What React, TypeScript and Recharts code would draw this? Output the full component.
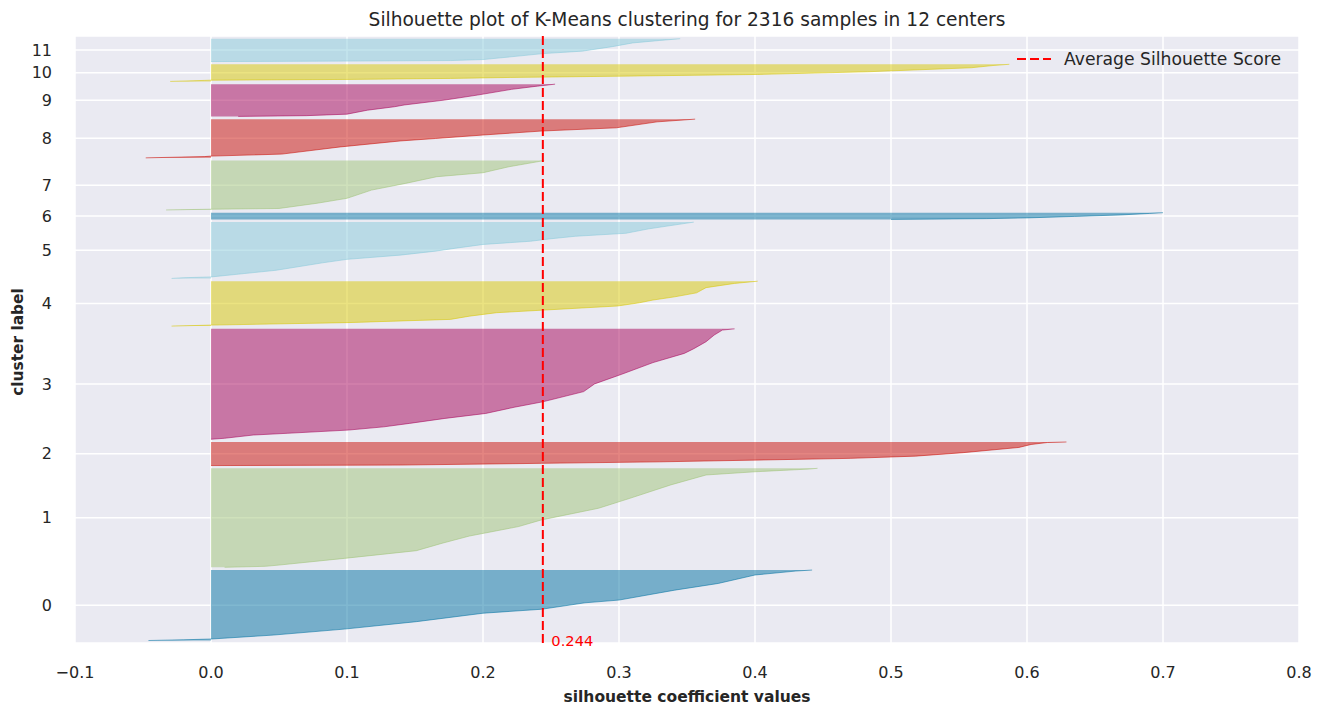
import React from 'react';
import { ComposedChart, Area, XAxis, YAxis, CartesianGrid, ReferenceLine } from 'recharts';

const FONT = '"DejaVu Sans", Verdana, sans-serif';
const TEXT = '#262626';

// samples per cluster, bottom to top
const clusterSizes = [285, 400, 96, 446, 182, 228, 28, 200, 157, 131, 70, 93];
const clusterColors = [
    '#0272a2', '#9fc377', '#ca0b03', '#a50258', '#d7c703', '#88cada',
    '#0272a2', '#9fc377', '#ca0b03', '#a50258', '#d7c703', '#88cada',
];
const xTicks = [-0.1, 0, 0.1, 0.2, 0.3, 0.4, 0.5, 0.6, 0.7, 0.8];
const avgScore = 0.244;
const totalSamples = 2316;

// sorted silhouette values: [rank inside cluster, value]
const sil0 = [[0, -0.046], [3, -0.02], [6, 0.0], [22, 0.046], [46, 0.098], [76, 0.151], [110, 0.2], [126, 0.243], [152, 0.275], [163, 0.3], [203, 0.341], [230, 0.373], [264, 0.4], [280, 0.43], [284, 0.442]];
const sil1 = [[0, 0.01], [4, 0.04], [9, 0.05], [36, 0.098], [67, 0.151], [97, 0.17], [126, 0.19], [164, 0.226], [191, 0.243], [238, 0.285], [278, 0.308], [332, 0.338], [372, 0.364], [385, 0.4], [396, 0.44], [399, 0.446]];
const sil2 = [[0, 0.0], [2, 0.139], [9, 0.243], [15, 0.33], [29, 0.47], [38, 0.518], [52, 0.553], [73, 0.594], [85, 0.603], [93, 0.615], [95, 0.629]];
const sil3 = [[0, 0.0], [4, 0.01], [17, 0.031], [24, 0.056], [37, 0.101], [50, 0.127], [64, 0.146], [84, 0.172], [104, 0.202], [129, 0.223], [151, 0.244], [192, 0.274], [223, 0.282], [262, 0.302], [309, 0.325], [346, 0.348], [365, 0.355], [393, 0.364], [420, 0.37], [440, 0.376], [445, 0.385]];
const sil4 = [[0, -0.029], [4, 0.0], [14, 0.1], [27, 0.176], [40, 0.19], [54, 0.21], [64, 0.243], [81, 0.299], [94, 0.315], [105, 0.325], [118, 0.341], [134, 0.357], [155, 0.364], [172, 0.385], [181, 0.402]];
const sil5 = [[0, -0.029], [3, -0.02], [6, 0.0], [33, 0.048], [63, 0.082], [77, 0.1], [94, 0.139], [110, 0.165], [122, 0.18], [137, 0.2], [150, 0.235], [160, 0.25], [170, 0.268], [182, 0.305], [200, 0.322], [227, 0.355]];
const sil6 = [[0, 0.5], [3, 0.57], [6, 0.6], [12, 0.635], [18, 0.669], [24, 0.69], [27, 0.7]];
const sil7 = [[0, -0.033], [3, 0.0], [6, 0.05], [27, 0.078], [47, 0.1], [80, 0.118], [107, 0.143], [134, 0.166], [150, 0.2], [174, 0.219], [199, 0.245]];
const sil8 = [[0, -0.048], [5, -0.005], [7, 0.0], [15, 0.052], [44, 0.095], [68, 0.139], [78, 0.165], [92, 0.2], [108, 0.243], [121, 0.298], [145, 0.328], [156, 0.356]];
const sil9 = [[0, 0.02], [3, 0.07], [9, 0.1], [25, 0.115], [39, 0.135], [46, 0.142], [66, 0.172], [86, 0.196], [109, 0.221], [122, 0.24], [130, 0.253]];
const sil10 = [[0, -0.03], [4, -0.005], [5, 0.0], [8, 0.1], [12, 0.176], [16, 0.22], [21, 0.3], [28, 0.402], [39, 0.483], [55, 0.559], [64, 0.575], [69, 0.587]];
const sil11 = [[0, 0.0], [2, 0.1], [4, 0.176], [8, 0.2], [15, 0.213], [32, 0.244], [42, 0.273], [60, 0.295], [75, 0.31], [85, 0.33], [92, 0.345]];

const clusterValues = [sil0, sil1, sil2, sil3, sil4, sil5, sil6, sil7, sil8, sil9, sil10, sil11];

// yellowbrick layout: 10 rows of space between clusters
const GAP = 10;
const yStarts: number[] = [];
let yLower = GAP;
clusterSizes.forEach((n) => {
    yStarts.push(yLower);
    yLower += n + GAP;
});
const yMax = totalSamples + GAP * (clusterSizes.length + 1);
const yTicks = clusterSizes.map((n, i) => yStarts[i] + n / 2);

const rows: any[] = [];
clusterValues.forEach((pts, i) => {
    pts.forEach(([r, v]) => {
        rows.push({ y: yStarts[i] + r, ['s' + i]: v });
    });
});

const fmtX = (v: number) => (v < 0 ? '\u2212' + Math.abs(v).toFixed(1) : v.toFixed(1));

const AvgLabel = (props: any) => {
    const vb = props.viewBox || {};
    return (
        <text x={vb.x + 8.5} y={vb.y + vb.height + 2.5} fill="#ff0000" fontSize={14.7} fontFamily={FONT}>
            {avgScore.toFixed(3)}
        </text>
    );
};

export default function App() {
    return (
        <div style={{ position: 'absolute', left: 0, top: 0, width: 1331, height: 707, background: '#fff', fontFamily: FONT }}>
            <div style={{ position: 'absolute', left: 75, top: 9, width: 1224, textAlign: 'center', fontSize: 18.6, lineHeight: '22px', color: TEXT, whiteSpace: 'nowrap' }}>
                Silhouette plot of K-Means clustering for {totalSamples} samples in {clusterSizes.length} centers
            </div>
            <ComposedChart
                width={1331}
                height={707}
                data={rows}
                layout="vertical"
                margin={{ top: 36, right: 32, bottom: 0, left: 0 }}
            >
                <CartesianGrid fill="#EAEAF2" fillOpacity={1} stroke="#ffffff" strokeWidth={1.5} />
                <XAxis
                    type="number"
                    domain={[-0.1, 0.8]}
                    ticks={xTicks}
                    interval={0}
                    allowDataOverflow
                    tickFormatter={fmtX}
                    height={64}
                    tickSize={0}
                    tickMargin={24}
                    tickLine={false}
                    axisLine={false}
                    tick={{ fontSize: 16, fill: TEXT, fontFamily: FONT }}
                    label={{
                        value: 'silhouette coefficient values',
                        position: 'insideBottom',
                        offset: 5.5,
                        style: { fontSize: 15.5, fontWeight: 'bold', fill: TEXT, fontFamily: FONT },
                    }}
                />
                <YAxis
                    type="number"
                    dataKey="y"
                    domain={[0, yMax]}
                    reversed
                    ticks={yTicks}
                    interval={0}
                    allowDataOverflow
                    tickFormatter={(v: number) => String(yTicks.indexOf(v))}
                    width={75}
                    tickSize={0}
                    tickMargin={23}
                    tickLine={false}
                    axisLine={false}
                    tick={{ fontSize: 16, fill: TEXT, fontFamily: FONT }}
                    label={() => (
                        <text
                            x={23}
                            y={342}
                            transform="rotate(-90, 23, 342)"
                            textAnchor="middle"
                            fontSize={15.4}
                            fontWeight="bold"
                            fill={TEXT}
                            fontFamily={FONT}
                        >
                            cluster label
                        </text>
                    )}
                />
                {clusterValues.map((_, i) => (
                    <Area
                        key={'cl' + i}
                        type="linear"
                        dataKey={'s' + i}
                        baseValue={0}
                        fill={clusterColors[i]}
                        fillOpacity={0.5}
                        stroke={clusterColors[i]}
                        strokeOpacity={0.55}
                        strokeWidth={1}
                        connectNulls={false}
                        dot={false}
                        activeDot={false}
                        isAnimationActive={false}
                    />
                ))}
                <ReferenceLine
                    x={avgScore}
                    stroke="#ff0000"
                    strokeWidth={2}
                    strokeDasharray="9 4"
                    label={(p: any) => <AvgLabel {...p} />}
                />
            </ComposedChart>
            <div style={{ position: 'absolute', left: 1016, top: 48, height: 22, display: 'flex', alignItems: 'center' }}>
                <svg width={36} height={4} style={{ display: 'block' }}>
                    <line x1={1} y1={2} x2={35} y2={2} stroke="#ff0000" strokeWidth={2} strokeDasharray="9 4" />
                </svg>
                <span style={{ marginLeft: 12, fontSize: 17.2, color: TEXT, whiteSpace: 'nowrap' }}>Average Silhouette Score</span>
            </div>
        </div>
    );
}
